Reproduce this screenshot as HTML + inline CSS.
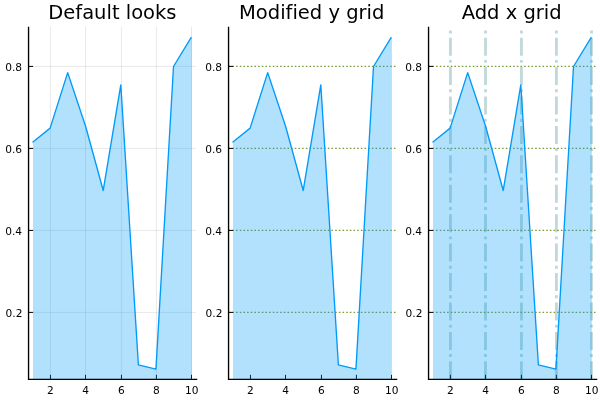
<!DOCTYPE html>
<html><head><meta charset="utf-8"><title>Grid plots</title>
<style>
html,body{margin:0;padding:0;background:#fff;}
body{width:600px;height:400px;overflow:hidden;}
svg{display:block;will-change:transform;}
text{font-family:"DejaVu Sans","Liberation Sans",sans-serif;fill:#000;font-variant-ligatures:none;font-feature-settings:"liga" 0,"clig" 0;font-kerning:normal;}
.tt{font-size:19.5px;text-anchor:middle;}
.yl{font-size:10.6px;text-anchor:end;}
.xl{font-size:10.6px;text-anchor:middle;}
</style></head><body>
<svg width="600" height="400" viewBox="0 0 600 400">
<rect width="600" height="400" fill="#fff"/>

<g transform="translate(0,0)">
<clipPath id="c0"><rect x="28.55" y="26.75" width="167.45" height="352.55"/></clipPath>
<line x1="50.45" y1="26.75" x2="50.45" y2="379.3" stroke="#000" stroke-opacity="0.1" stroke-width="0.9"/>
<line x1="85.50" y1="26.75" x2="85.50" y2="379.3" stroke="#000" stroke-opacity="0.1" stroke-width="0.9"/>
<line x1="121.45" y1="26.75" x2="121.45" y2="379.3" stroke="#000" stroke-opacity="0.1" stroke-width="0.9"/>
<line x1="156.40" y1="26.75" x2="156.40" y2="379.3" stroke="#000" stroke-opacity="0.1" stroke-width="0.9"/>
<line x1="191.50" y1="26.75" x2="191.50" y2="379.3" stroke="#000" stroke-opacity="0.1" stroke-width="0.9"/>
<line x1="28.55" y1="312.40" x2="196.0" y2="312.40" stroke="#000" stroke-opacity="0.1" stroke-width="0.9"/>
<line x1="28.55" y1="230.40" x2="196.0" y2="230.40" stroke="#000" stroke-opacity="0.1" stroke-width="0.9"/>
<line x1="28.55" y1="148.40" x2="196.0" y2="148.40" stroke="#000" stroke-opacity="0.1" stroke-width="0.9"/>
<line x1="28.55" y1="66.40" x2="196.0" y2="66.40" stroke="#000" stroke-opacity="0.1" stroke-width="0.9"/>
<line x1="50.45" y1="379.3" x2="50.45" y2="374.8" stroke="#000" stroke-width="1"/>
<line x1="85.50" y1="379.3" x2="85.50" y2="374.8" stroke="#000" stroke-width="1"/>
<line x1="121.45" y1="379.3" x2="121.45" y2="374.8" stroke="#000" stroke-width="1"/>
<line x1="156.40" y1="379.3" x2="156.40" y2="374.8" stroke="#000" stroke-width="1"/>
<line x1="191.50" y1="379.3" x2="191.50" y2="374.8" stroke="#000" stroke-width="1"/>
<line x1="28.55" y1="312.40" x2="33.15" y2="312.40" stroke="#000" stroke-width="1"/>
<line x1="28.55" y1="230.40" x2="33.15" y2="230.40" stroke="#000" stroke-width="1"/>
<line x1="28.55" y1="148.40" x2="33.15" y2="148.40" stroke="#000" stroke-width="1"/>
<line x1="28.55" y1="66.40" x2="33.15" y2="66.40" stroke="#000" stroke-width="1"/>
<polygon points="32.95,379.3 32.95,141.92 50.12,128.11 67.69,72.59 85.66,126.51 103.23,190.47 120.80,84.89 138.37,364.80 155.94,369.10 173.51,66.48 191.08,37.70 191.9,37.70 191.9,379.3" fill="#009afa" fill-opacity="0.3"/>
<polyline points="32.95,141.92 50.12,128.11 67.69,72.59 85.66,126.51 103.23,190.47 120.80,84.89 138.37,364.80 155.94,369.10 173.51,66.48 191.08,37.70" fill="none" stroke="#009afa" stroke-width="1.35" stroke-linejoin="round" stroke-linecap="round"/>
<path d="M28.55 26.75V379.3M27.85 379.3H197.25" fill="none" stroke="#000" stroke-width="1.35"/>
<text class="xl" x="50.45" y="394.3">2</text>
<text class="xl" x="85.50" y="394.3">4</text>
<text class="xl" x="121.45" y="394.3">6</text>
<text class="xl" x="156.40" y="394.3">8</text>
<text class="xl" x="191.80" y="394.3">10</text>
<text class="yl" x="22.4" y="316.90">0.2</text>
<text class="yl" x="22.0" y="234.90">0.4</text>
<text class="yl" x="22.0" y="152.90">0.6</text>
<text class="yl" x="22.0" y="70.90">0.8</text>
<text class="tt" x="112.4" y="18.8">Default looks</text>
</g>
<g transform="translate(200,0)">
<clipPath id="c1"><rect x="28.55" y="26.75" width="167.45" height="352.55"/></clipPath>
<line x1="28.55" y1="312.40" x2="196.0" y2="312.40" stroke="#6b8e23" stroke-opacity="0.9" stroke-width="1.4" stroke-dasharray="1.55 2.12" stroke-dashoffset="-0.2"/>
<line x1="28.55" y1="230.40" x2="196.0" y2="230.40" stroke="#6b8e23" stroke-opacity="0.9" stroke-width="1.4" stroke-dasharray="1.55 2.12" stroke-dashoffset="-0.2"/>
<line x1="28.55" y1="148.40" x2="196.0" y2="148.40" stroke="#6b8e23" stroke-opacity="0.9" stroke-width="1.4" stroke-dasharray="1.55 2.12" stroke-dashoffset="-0.2"/>
<line x1="28.55" y1="66.40" x2="196.0" y2="66.40" stroke="#6b8e23" stroke-opacity="0.9" stroke-width="1.4" stroke-dasharray="1.55 2.12" stroke-dashoffset="-0.2"/>
<line x1="50.45" y1="379.3" x2="50.45" y2="374.8" stroke="#000" stroke-width="1"/>
<line x1="85.50" y1="379.3" x2="85.50" y2="374.8" stroke="#000" stroke-width="1"/>
<line x1="121.45" y1="379.3" x2="121.45" y2="374.8" stroke="#000" stroke-width="1"/>
<line x1="156.40" y1="379.3" x2="156.40" y2="374.8" stroke="#000" stroke-width="1"/>
<line x1="191.50" y1="379.3" x2="191.50" y2="374.8" stroke="#000" stroke-width="1"/>
<line x1="28.55" y1="312.40" x2="33.15" y2="312.40" stroke="#000" stroke-width="1"/>
<line x1="28.55" y1="230.40" x2="33.15" y2="230.40" stroke="#000" stroke-width="1"/>
<line x1="28.55" y1="148.40" x2="33.15" y2="148.40" stroke="#000" stroke-width="1"/>
<line x1="28.55" y1="66.40" x2="33.15" y2="66.40" stroke="#000" stroke-width="1"/>
<polygon points="32.95,379.3 32.95,141.92 50.12,128.11 67.69,72.59 85.66,126.51 103.23,190.47 120.80,84.89 138.37,364.80 155.94,369.10 173.51,66.48 191.08,37.70 191.9,37.70 191.9,379.3" fill="#009afa" fill-opacity="0.3"/>
<polyline points="32.95,141.92 50.12,128.11 67.69,72.59 85.66,126.51 103.23,190.47 120.80,84.89 138.37,364.80 155.94,369.10 173.51,66.48 191.08,37.70" fill="none" stroke="#009afa" stroke-width="1.35" stroke-linejoin="round" stroke-linecap="round"/>
<path d="M28.55 26.75V379.3M27.85 379.3H197.25" fill="none" stroke="#000" stroke-width="1.35"/>
<text class="xl" x="50.45" y="394.3">2</text>
<text class="xl" x="85.50" y="394.3">4</text>
<text class="xl" x="121.45" y="394.3">6</text>
<text class="xl" x="156.40" y="394.3">8</text>
<text class="xl" x="191.80" y="394.3">10</text>
<text class="yl" x="22.4" y="316.90">0.2</text>
<text class="yl" x="22.0" y="234.90">0.4</text>
<text class="yl" x="22.0" y="152.90">0.6</text>
<text class="yl" x="22.0" y="70.90">0.8</text>
<text class="tt" x="111.7" y="18.8">Modified y grid</text>
</g>
<g transform="translate(400,0)">
<clipPath id="c2"><rect x="28.55" y="26.75" width="167.45" height="352.55"/></clipPath>
<line x1="50.45" y1="379.3" x2="50.45" y2="26.75" stroke="#5f9ea0" stroke-opacity="0.4" stroke-width="2.8" stroke-dasharray="18 4.3 2.9 4.22" clip-path="url(#c2)"/>
<line x1="85.50" y1="379.3" x2="85.50" y2="26.75" stroke="#5f9ea0" stroke-opacity="0.4" stroke-width="2.8" stroke-dasharray="18 4.3 2.9 4.22" clip-path="url(#c2)"/>
<line x1="121.45" y1="379.3" x2="121.45" y2="26.75" stroke="#5f9ea0" stroke-opacity="0.4" stroke-width="2.8" stroke-dasharray="18 4.3 2.9 4.22" clip-path="url(#c2)"/>
<line x1="156.40" y1="379.3" x2="156.40" y2="26.75" stroke="#5f9ea0" stroke-opacity="0.4" stroke-width="2.8" stroke-dasharray="18 4.3 2.9 4.22" clip-path="url(#c2)"/>
<line x1="191.50" y1="379.3" x2="191.50" y2="26.75" stroke="#5f9ea0" stroke-opacity="0.4" stroke-width="2.8" stroke-dasharray="18 4.3 2.9 4.22" clip-path="url(#c2)"/>
<line x1="28.55" y1="312.40" x2="196.0" y2="312.40" stroke="#6b8e23" stroke-opacity="0.9" stroke-width="1.4" stroke-dasharray="1.55 2.12" stroke-dashoffset="-0.2"/>
<line x1="28.55" y1="230.40" x2="196.0" y2="230.40" stroke="#6b8e23" stroke-opacity="0.9" stroke-width="1.4" stroke-dasharray="1.55 2.12" stroke-dashoffset="-0.2"/>
<line x1="28.55" y1="148.40" x2="196.0" y2="148.40" stroke="#6b8e23" stroke-opacity="0.9" stroke-width="1.4" stroke-dasharray="1.55 2.12" stroke-dashoffset="-0.2"/>
<line x1="28.55" y1="66.40" x2="196.0" y2="66.40" stroke="#6b8e23" stroke-opacity="0.9" stroke-width="1.4" stroke-dasharray="1.55 2.12" stroke-dashoffset="-0.2"/>
<line x1="50.45" y1="379.3" x2="50.45" y2="374.8" stroke="#000" stroke-width="1"/>
<line x1="85.50" y1="379.3" x2="85.50" y2="374.8" stroke="#000" stroke-width="1"/>
<line x1="121.45" y1="379.3" x2="121.45" y2="374.8" stroke="#000" stroke-width="1"/>
<line x1="156.40" y1="379.3" x2="156.40" y2="374.8" stroke="#000" stroke-width="1"/>
<line x1="191.50" y1="379.3" x2="191.50" y2="374.8" stroke="#000" stroke-width="1"/>
<line x1="28.55" y1="312.40" x2="33.15" y2="312.40" stroke="#000" stroke-width="1"/>
<line x1="28.55" y1="230.40" x2="33.15" y2="230.40" stroke="#000" stroke-width="1"/>
<line x1="28.55" y1="148.40" x2="33.15" y2="148.40" stroke="#000" stroke-width="1"/>
<line x1="28.55" y1="66.40" x2="33.15" y2="66.40" stroke="#000" stroke-width="1"/>
<polygon points="32.95,379.3 32.95,141.92 50.12,128.11 67.69,72.59 85.66,126.51 103.23,190.47 120.80,84.89 138.37,364.80 155.94,369.10 173.51,66.48 191.08,37.70 191.9,37.70 191.9,379.3" fill="#009afa" fill-opacity="0.3"/>
<polyline points="32.95,141.92 50.12,128.11 67.69,72.59 85.66,126.51 103.23,190.47 120.80,84.89 138.37,364.80 155.94,369.10 173.51,66.48 191.08,37.70" fill="none" stroke="#009afa" stroke-width="1.35" stroke-linejoin="round" stroke-linecap="round"/>
<path d="M28.55 26.75V379.3M27.85 379.3H197.25" fill="none" stroke="#000" stroke-width="1.35"/>
<text class="xl" x="50.45" y="394.3">2</text>
<text class="xl" x="85.50" y="394.3">4</text>
<text class="xl" x="121.45" y="394.3">6</text>
<text class="xl" x="156.40" y="394.3">8</text>
<text class="xl" x="191.80" y="394.3">10</text>
<text class="yl" x="22.4" y="316.90">0.2</text>
<text class="yl" x="22.0" y="234.90">0.4</text>
<text class="yl" x="22.0" y="152.90">0.6</text>
<text class="yl" x="22.0" y="70.90">0.8</text>
<text class="tt" x="111.65" y="18.8">Add x grid</text>
</g>
</svg></body></html>
